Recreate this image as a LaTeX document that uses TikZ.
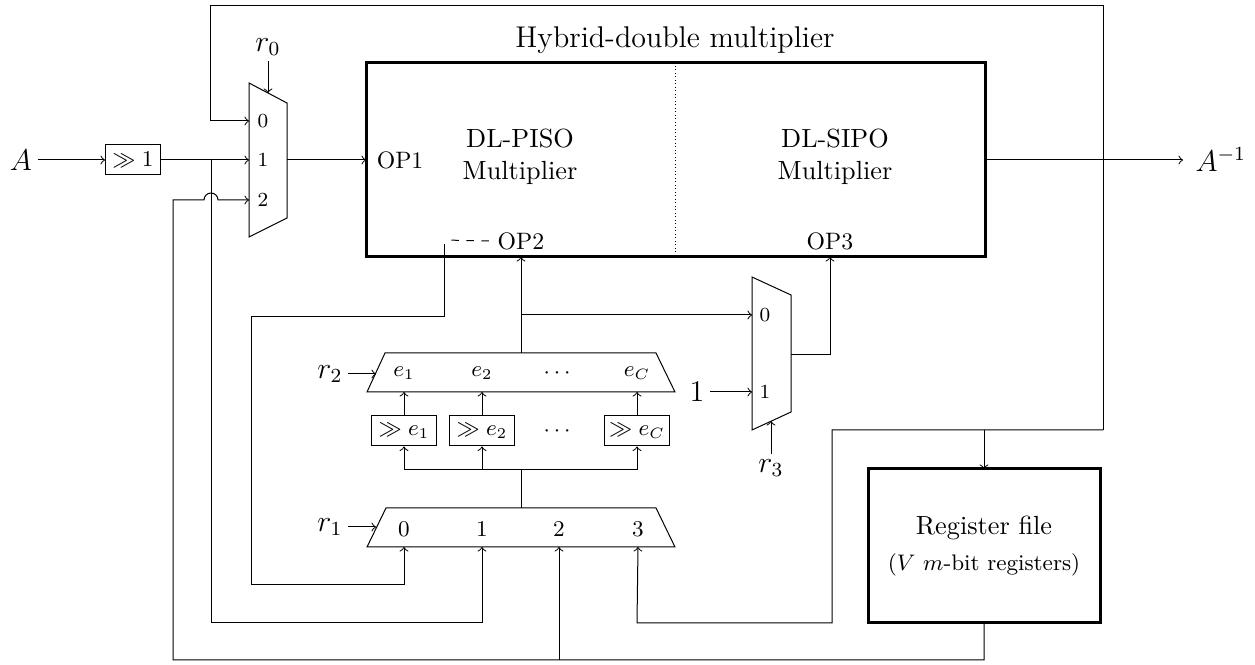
\documentclass[tikz,border=0pt]{standalone}

\tikzset{
  bigbox/.style={very thick},
  shiftbox/.style={draw,inner sep=1pt,minimum height=12pt,font=\small},
  muxlabel/.style={font=\footnotesize},
  selabel/.style={font=\small},
  siglabel/.style={font=\fontsize{12}{14}\selectfont,inner sep=2pt},
  optext/.style={font=\fontsize{9.5}{11}\selectfont},
  multtext/.style={font=\fontsize{10.5}{12.8}\selectfont,align=center},
}

\begin{document}
\begin{tikzpicture}[x=0.4pt,y=-0.4pt]
  \useasboundingbox (0,0) rectangle (1255,665);

  % hybrid-double multiplier
  \draw[bigbox] (366,63) rectangle (985,257);
  \draw[densely dotted] (675,66) -- (675,254);
  \node[font=\large] (title) at (675,40) {Hybrid-double multiplier};
  \node[multtext] (piso) at (520,157) {DL-PISO\\Multiplier};
  \node[multtext] (sipo) at (835,157) {DL-SIPO\\Multiplier};
  \node[optext,anchor=west] (op1) at (368,160) {OP1};
  \node[optext] (op2) at (521,241) {OP2};
  \node[optext] (op3) at (830,241) {OP3};
  \coordinate (op1in) at (366,160);
  \coordinate (op2in) at (521,257);
  \coordinate (op3in) at (830,257);
  \coordinate (multout) at (985,160);

  % input and first shift
  \node[siglabel] (a) at (21,160) {$A$};
  \node[shiftbox,minimum width=22pt] (sh) at (133,160) {$\gg 1$};
  \draw[->] (a) -- (sh);

  % mux r0
  \draw (249,83) -- (287,103) -- (287,218) -- (249,237) -- cycle;
  \coordinate (m0in0) at (249,121);
  \coordinate (m0in1) at (249,160);
  \coordinate (m0in2) at (249,200);
  \coordinate (m0out) at (287,160);
  \foreach \i/\y in {0/121,1/160,2/200}
    \node[muxlabel] (m0l\i) at (263,\y) {\i};
  \node[siglabel] (r0) at (268,47) {$r_0$};
  \draw[->] (r0) -- (268,93);
  \draw[->] (sh) -- (m0in1);
  \draw[->] (m0out) -- (op1in);

  % output
  \draw[->] (multout) -- (1183,160);
  \node[siglabel,anchor=west] (ainv) at (1190,160) {$A^{-1}$};

  % exponent mux r2
  \draw (385,353) -- (656,353) -- (675,392) -- (367,392) -- cycle;
  \foreach \n/\x/\e in {1/404/e_1,2/482/e_2,C/637/e_C}
    \node[selabel] (el\n) at (\x,373) {$\e$};
  \node[selabel] (eldots) at (557,373) {$\cdots$};
  \node[siglabel] (r2) at (330,374) {$r_2$};
  \draw[->] (r2) -- (376,374);
  \coordinate (emuxout) at (521,353);
  \draw[->] (emuxout) -- (op2in);

  % shifts
  \foreach \n/\x/\e in {1/404/e_1,2/482/e_2,C/637/e_C} {
    \node[shiftbox,minimum width=26pt] (se\n) at (\x,431) {$\gg \e$};
    \draw[->] (se\n) -- (\x,392);
    \draw[->] (\x,470) -- (se\n);
  }
  \node[selabel] (sedots) at (557,431) {$\cdots$};
  \draw (404,470) -- (637,470);
  \draw (521,470) -- (521,508);

  % mux r1
  \draw (386,508) -- (656,508) -- (675,547) -- (367,547) -- cycle;
  \foreach \i/\x in {0/404,1/482,2/559,3/638} {
    \node[selabel] (m1l\i) at (\x,529) {\i};
    \coordinate (r1in\i) at (\x,547);
  }
  \node[siglabel] (r1) at (330,527) {$r_1$};
  \draw[->] (r1) -- (376,527);

  % mux r3
  \draw (752,277) -- (791,295) -- (791,412) -- (752,430) -- cycle;
  \coordinate (m3in0) at (752,315);
  \coordinate (m3in1) at (752,392);
  \node[muxlabel] (m3l0) at (765,315) {0};
  \node[muxlabel] (m3l1) at (765,392) {1};
  \node[siglabel] (one) at (697,392) {$1$};
  \draw[->] (one) -- (m3in1);
  \node[siglabel] (r3) at (771,468) {$r_3$};
  \draw[->] (r3) -- (771,421);
  \draw[->] (791,355) -- (830,355) -- (op3in);
  \draw[->] (521,315) -- (m3in0);

  % register file
  \draw[bigbox] (868,469) rectangle (1100,623);
  \node[font=\fontsize{10.5}{12.8}\selectfont] (rf) at (984,528) {Register file};
  \node[font=\small] (rfsub) at (984,565) {($V$\ $m$-bit registers)};
  \coordinate (rfin) at (984,469);
  \coordinate (rfout) at (984,623);

  % feedback wires
  \draw[->] (1103,430) -- (1103,6) -- (210,6) -- (210,121) -- (m0in0);
  \draw[->] (1103,430) -- (832,430) -- (832,623) -- (637,623) -- (r1in3);
  \draw[->] (984,430) -- (rfin);
  \draw[->] (211,160) -- (211,623) -- (482,623) -- (r1in1);
  \draw[dashed] (op2.west) -- (444,240);
  \draw[->] (444,244) -- (444,317) -- (251,317) -- (251,585) -- (404,585) -- (r1in0);
  \draw[->] (rfout) -- (984,660) -- (173,660) -- (173,200) -- (204,200)
    arc[start angle=180,end angle=360,radius=7] -- (m0in2);
  \draw[->] (559,660) -- (r1in2);
\end{tikzpicture}
\end{document}
